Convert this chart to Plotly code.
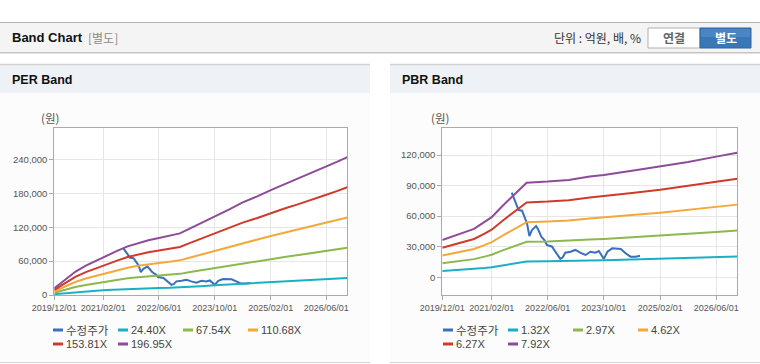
import plotly.graph_objects as go

W, H = 760, 364

# ---------------- data ----------------
xtick_vals = ["2019-12-01", "2021-02-01", "2022-06-01", "2023-10-01", "2025-02-01", "2026-06-01"]
xtick_text = ["2019/12/01", "2021/02/01", "2022/06/01", "2023/10/01", "2025/02/01", "2026/06/01"]

per_ytick_vals = [0, 60000, 120000, 180000, 240000]
per_ytick_text = ["0", "60,000", "120,000", "180,000", "240,000"]
pbr_ytick_vals = [0, 30000, 60000, 90000, 120000]
pbr_ytick_text = ["0", "30,000", "60,000", "90,000", "120,000"]

price_dates = ["2021-07-25", "2021-08-19", "2021-09-04", "2021-09-22", "2021-10-22", "2021-11-13",
               "2021-12-04", "2021-12-25", "2022-01-16", "2022-02-21", "2022-03-13", "2022-04-07",
               "2022-05-04", "2022-05-25", "2022-07-10", "2022-08-07", "2022-09-19", "2022-10-10",
               "2022-11-01", "2022-12-16", "2023-01-28", "2023-03-10", "2023-04-25", "2023-06-07",
               "2023-07-19", "2023-08-19", "2023-10-01", "2023-11-01", "2023-12-13", "2024-02-25",
               "2024-04-07", "2024-05-19", "2024-07-04", "2024-08-10"]
price = [83000, 75800, 69300, 66000, 65300, 59500,
         53000, 40500, 46400, 50300, 46400, 39800,
         36600, 31700, 30000, 25100, 18000, 19600,
         24100, 25100, 26800, 24100, 21900, 25100,
         24100, 25800, 18000, 25100, 28400, 27800,
         23500, 20200, 20200, 21200]

per_dates = ["2019-12-01", "2020-03-01", "2020-06-01", "2020-09-01", "2020-12-01", "2021-03-01",
             "2021-06-01", "2021-09-01", "2021-12-01", "2022-03-01", "2022-06-01", "2022-09-01",
             "2022-12-01", "2023-03-01", "2023-06-01", "2023-10-01", "2024-02-01", "2024-06-01",
             "2024-10-01", "2025-02-01", "2025-06-01", "2025-10-01", "2026-02-01", "2026-06-01",
             "2026-09-01", "2026-12-01"]
per_2440 = [1500, 3300, 5100, 6400, 7600, 8700, 9700, 10700, 11400, 12000, 12500, 12900,
            13500, 14600, 15700, 17200, 18700, 20300, 21600, 23000, 24300, 25500, 26800, 28100,
            29200, 30200]
per_6754 = [4000, 9300, 14100, 17800, 20900, 24000, 26700, 29500, 31600, 33300, 34600, 35800,
            37400, 40500, 43600, 47500, 51800, 56200, 59700, 63700, 67200, 70600, 74100, 77800,
            80800, 83700]
per_11068 = [6600, 15200, 23000, 29200, 34300, 39300, 43800, 48300, 51700, 54500, 56800, 58700,
             61300, 66300, 71400, 77900, 84900, 92200, 97800, 104400, 110100, 115800, 121400, 127600,
             132300, 137100]
per_15381 = [9200, 21100, 32000, 40600, 47600, 54700, 60900, 67200, 71800, 75800, 78900, 81600,
             85100, 92200, 99200, 108200, 117900, 128100, 135900, 145000, 153100, 160900, 168700, 177300,
             183900, 190600]
per_19695 = [11800, 27000, 41000, 52000, 61000, 70000, 78000, 86000, 92000, 97000, 101000, 104500,
             109000, 118000, 127000, 138600, 151000, 164000, 174000, 185700, 196000, 206000, 216000, 227000,
             235500, 244000]

pbr_dates = ["2019-12-01", "2020-03-01", "2020-06-01", "2020-09-01", "2020-12-01", "2021-02-01",
             "2021-05-01", "2021-08-01", "2021-10-01", "2021-12-01", "2022-06-01", "2022-12-01",
             "2023-06-01", "2023-10-01", "2024-06-01", "2025-02-01", "2025-10-01", "2026-06-01",
             "2026-12-01"]
pbr_132 = [6100, 6650, 7300, 7900, 9000, 9800, 11600, 13250, 14400, 15500, 15650, 15900,
           16500, 16700, 17400, 18100, 18850, 19700, 20400]
pbr_297 = [13700, 15000, 16400, 17800, 20250, 22100, 26100, 29800, 32400, 34800, 35200, 35800,
           37050, 37650, 39200, 40700, 42400, 44400, 45900]
pbr_462 = [21350, 23300, 25550, 27700, 31500, 34400, 40500, 46400, 50500, 54100, 54800, 55700,
           57600, 58600, 61000, 63350, 66000, 69100, 71300]
pbr_627 = [29000, 31600, 34700, 37600, 42750, 46700, 55000, 62900, 68500, 73500, 74300, 75600,
           78200, 79500, 82800, 86000, 89500, 93700, 96800]
pbr_792 = [36600, 39900, 43800, 47500, 54000, 59000, 69500, 79500, 86500, 92800, 93900, 95500,
           98800, 100400, 104600, 108600, 113100, 118400, 122300]

per_names = ["수정주가", "24.40X", "67.54X", "110.68X", "153.81X", "196.95X"]
pbr_names = ["수정주가", "1.32X", "2.97X", "4.62X", "6.27X", "7.92X"]
colors = ["#3a6fc0", "#1aafc4", "#8cb84e", "#f5a83a", "#d13a2b", "#8d4b99"]

# ---------------- helpers ----------------
def px(x):
    return x / W


def py(y):
    return 1 - y / H


LAT = "Liberation Sans, Arial, Noto Sans CJK KR, sans-serif"
KR = "Noto Sans CJK KR, Liberation Sans, sans-serif"

fig = go.Figure()

per_series = [(price_dates, price), (per_dates, per_2440), (per_dates, per_6754),
              (per_dates, per_11068), (per_dates, per_15381), (per_dates, per_19695)]
pbr_series = [(price_dates, price), (pbr_dates, pbr_132), (pbr_dates, pbr_297),
              (pbr_dates, pbr_462), (pbr_dates, pbr_627), (pbr_dates, pbr_792)]

for (xs, ys), name, c in zip(per_series, per_names, colors):
    fig.add_trace(go.Scatter(x=xs, y=ys, name=name, mode="lines",
                             line=dict(color=c, width=2), xaxis="x", yaxis="y",
                             showlegend=False))
for (xs, ys), name, c in zip(pbr_series, pbr_names, colors):
    fig.add_trace(go.Scatter(x=xs, y=ys, name=name, mode="lines",
                             line=dict(color=c, width=2), xaxis="x2", yaxis="y2",
                             showlegend=False))

ydom = [py(295), py(128.3)]
axis_common = dict(showgrid=True, gridcolor="#e6e6e6", gridwidth=1, showline=True,
                   linecolor="#aaaaaa", linewidth=1, mirror=True, ticks="outside", ticklen=4,
                   tickcolor="#aaaaaa", zeroline=False, fixedrange=True, automargin=False)
xfont = dict(family=LAT, size=9, color="#555555")
yfont = dict(family=LAT, size=9.5, color="#555555")

shapes = []
annotations = []


def rect(x0, y0, x1, y1, fill, line=None, layer="below"):
    shapes.append(dict(type="rect", xref="paper", yref="paper", x0=px(x0), x1=px(x1),
                       y0=py(y1), y1=py(y0), fillcolor=fill,
                       line=dict(width=0 if line is None else 1, color=line or fill),
                       layer=layer))


def hline(x0, x1, y, color, width=1, layer="below"):
    shapes.append(dict(type="line", xref="paper", yref="paper", x0=px(x0), x1=px(x1),
                       y0=py(y), y1=py(y), line=dict(color=color, width=width), layer=layer))


def text(x, y, s, size=12, color="#333333", family=LAT, xanchor="left"):
    annotations.append(dict(x=px(x), y=py(y), xref="paper", yref="paper", text=s,
                            showarrow=False, xanchor=xanchor, yanchor="middle",
                            font=dict(family=family, size=size, color=color)))


# header bar
rect(0, 22, 760, 53, "#f4f4f4")
hline(0, 760, 22.5, "#b4b4b4")
hline(0, 760, 52.5, "#c4c4c4")
hline(0, 760, 53.5, "#e2e2e2")
text(10, 38, "<b>Band Chart</b>", size=13, color="#111111", family=LAT)
text(86, 38, "[별도]", size=12, color="#8a8a8a", family=KR)
text(643, 38, "단위 : 억원, 배, %", size=12, color="#333333", family=KR, xanchor="right")
# buttons
rect(648, 28, 700, 48, "#ffffff", line="#b0b0b0")
rect(700, 28, 751, 48, "#3a77b7", line="#2f67a3")
rect(701, 29, 750, 37, "#4a86c4")
text(674, 38, "<b>연결</b>", size=12, color="#666666", family=KR, xanchor="center")
text(725.5, 38, "<b>별도</b>", size=12, color="#ffffff", family=KR, xanchor="center")

# panels
for x0, x1, title in [(0, 370, "PER Band"), (390, 760, "PBR Band")]:
    rect(x0, 64, x1, 362, "#fcfcfc")
    rect(x0, 64.5, x1, 93, "#eef1f6")
    hline(x0, x1, 64.5, "#d2d2d2", width=1.5)
    hline(x0, x1, 362.5, "#d6d6d6")
    text(x0 + 10, 80, "<b>" + title + "</b>", size=12.5, color="#111111", family=LAT)
    text(x0 + 50, 118, "(원)", size=11.5, color="#555555", family=KR, xanchor="center")

# plot backgrounds (white)
rect(54.3, 128.3, 347.3, 295, "#ffffff")
rect(442.3, 128.3, 737.3, 295, "#ffffff")

# manual legends
legend_pos = [(53, 330), (118, 330), (183, 330), (248, 330), (53, 344), (118, 344)]
for off, names in [(0, per_names), (390, pbr_names)]:
    for (lx, ly), name, c in zip(legend_pos, names, colors):
        shapes.append(dict(type="line", xref="paper", yref="paper", x0=px(lx + off),
                           x1=px(lx + off + 10), y0=py(ly), y1=py(ly),
                           line=dict(color=c, width=3), layer="above"))
        fam = KR if name == "수정주가" else LAT
        sz = 11.5 if name == "수정주가" else 11
        text(lx + off + 11, ly, name, size=sz, color="#444444", family=fam)

fig.update_layout(
    width=W, height=H, autosize=False,
    margin=dict(l=0, r=0, t=0, b=0, pad=0),
    paper_bgcolor="#ffffff", plot_bgcolor="rgba(0,0,0,0)",
    showlegend=False,
    xaxis=dict(domain=[px(54.3), px(347.3)], type="date", range=["2019-12-01", "2026-12-01"],
               tickvals=xtick_vals, ticktext=xtick_text, tickangle=0, anchor="y",
               tickfont=xfont, **axis_common),
    yaxis=dict(domain=ydom, range=[0, 295000], tickvals=per_ytick_vals, ticktext=per_ytick_text,
               anchor="x", tickfont=yfont, **axis_common),
    xaxis2=dict(domain=[px(442.3), px(737.3)], type="date", range=["2019-12-01", "2026-12-01"],
                tickvals=xtick_vals, ticktext=xtick_text, tickangle=0, anchor="y2",
                tickfont=xfont, **axis_common),
    yaxis2=dict(domain=ydom, range=[-17400, 146200], tickvals=pbr_ytick_vals,
                ticktext=pbr_ytick_text, anchor="x2", tickfont=yfont, **axis_common),
    shapes=shapes, annotations=annotations,
)

fig.write_html("out.html", config={"displayModeBar": False},
               post_script="document.body.style.margin='0';document.body.style.padding='0';"
                           "document.body.style.overflow='hidden';")
